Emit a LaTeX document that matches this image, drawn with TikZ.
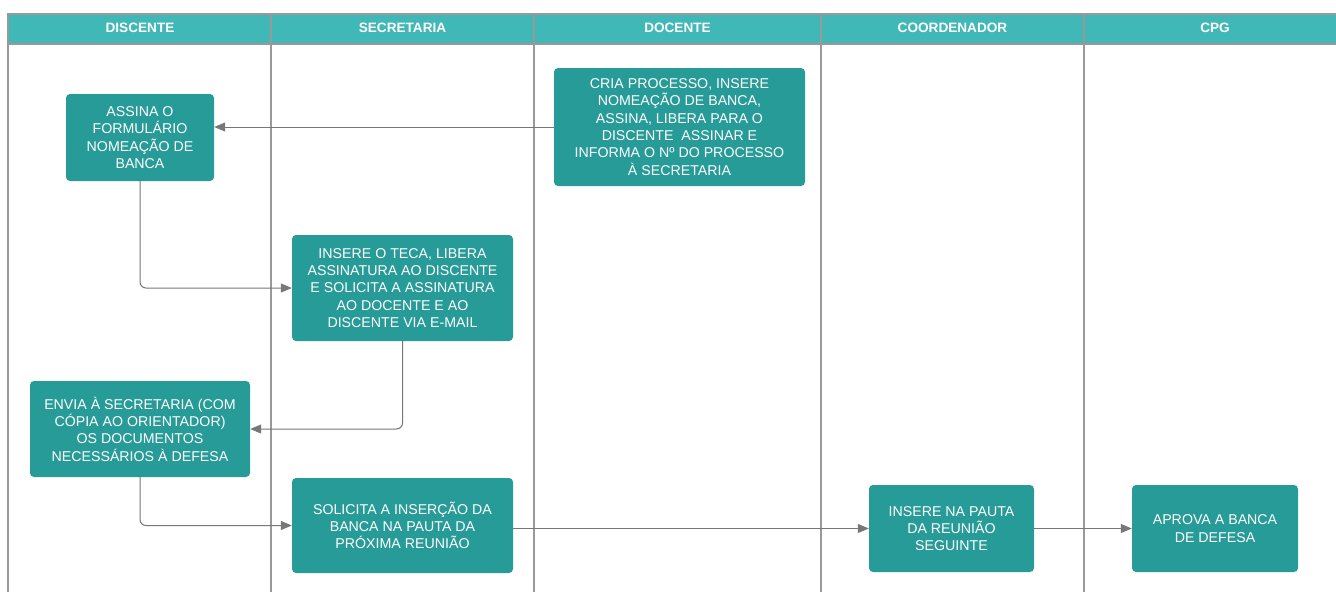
\documentclass[tikz,border=0pt]{standalone}
\usepackage{fontspec}
\setmainfont{Liberation Sans}
\usetikzlibrary{arrows.meta}
\definecolor{hdr}{HTML}{3FB8B7}
\definecolor{boxc}{HTML}{279B98}
\definecolor{lin}{HTML}{777777}
\definecolor{lanec}{HTML}{999999}
\begin{document}
\begin{tikzpicture}[x=1pt,y=-1pt,
  proc/.style={fill=boxc, rounded corners=4pt, text=white, align=center,
    font=\fontsize{14.2}{17.3}\selectfont, inner sep=0pt},
  flow/.style={draw=lin, line width=1pt, -{Triangle[length=11pt,width=9pt]}, rounded corners=6pt},
  lane/.style={draw=lanec, line width=1.1pt},
  hdrtxt/.style={text=white, font=\fontsize{13.6}{15}\selectfont\bfseries, inner sep=0pt}]
\useasboundingbox (0,0) rectangle (1336,592);
\fill[white] (0,0) rectangle (1336,592);
\fill[hdr] (8,14) rectangle (1336,44);
\draw[lane] (1336,14) -- (8,14) -- (8,592);
\draw[lane] (8,44) -- (1336,44);
\foreach \xx in {271,534,821,1084} {\draw[lane] (\xx,14) -- (\xx,592);}
\node[hdrtxt] (h1) at (140,27.5) {DISCENTE};
\node[hdrtxt] (h2) at (402.5,27.5) {SECRETARIA};
\node[hdrtxt] (h3) at (677.5,27.5) {DOCENTE};
\node[hdrtxt] (h4) at (952.5,27.5) {COORDENADOR};
\node[hdrtxt] (h5) at (1215,27.5) {CPG};

\node[proc, minimum width=148pt, minimum height=87pt] (assina) at (140,137.5)
  {ASSINA O\\FORMULÁRIO\\NOMEAÇÃO DE\\BANCA};
\node[proc, minimum width=251pt, minimum height=118pt] (cria) at (679.5,127)
  {CRIA PROCESSO, INSERE\\NOMEAÇÃO DE BANCA,\\ASSINA, LIBERA PARA O\\DISCENTE\ \ ASSINAR E\\INFORMA O Nº DO PROCESSO\\À SECRETARIA};
\node[proc, minimum width=221pt, minimum height=106pt] (teca) at (402.5,288)
  {INSERE O TECA, LIBERA\\ASSINATURA AO DISCENTE\\E SOLICITA A ASSINATURA\\AO DOCENTE E AO\\DISCENTE VIA E-MAIL};
\node[proc, minimum width=220pt, minimum height=96pt] (envia) at (140,429)
  {ENVIA À SECRETARIA (COM\\CÓPIA AO ORIENTADOR)\\OS DOCUMENTOS\\NECESSÁRIOS À DEFESA};
\node[proc, minimum width=221pt, minimum height=95pt] (sol) at (402.5,525.5)
  {SOLICITA A INSERÇÃO DA\\BANCA NA PAUTA DA\\PRÓXIMA REUNIÃO};
\node[proc, minimum width=165pt, minimum height=87pt] (pauta) at (951.5,528.5)
  {INSERE NA PAUTA\\DA REUNIÃO\\SEGUINTE};
\node[proc, minimum width=166pt, minimum height=87pt] (aprova) at (1215,528.5)
  {APROVA A BANCA\\DE DEFESA};

\draw[flow] (cria.west) -- (cria.west -| assina.east);
\draw[flow] (assina.south) |- (teca.west);
\draw[flow] (teca.south) |- (envia.east);
\draw[flow] (envia.south) |- (sol.west);
\draw[flow] (pauta.west -| sol.east) -- (pauta.west);
\draw[flow] (pauta.east) -- (aprova.west);
\end{tikzpicture}
\end{document}
